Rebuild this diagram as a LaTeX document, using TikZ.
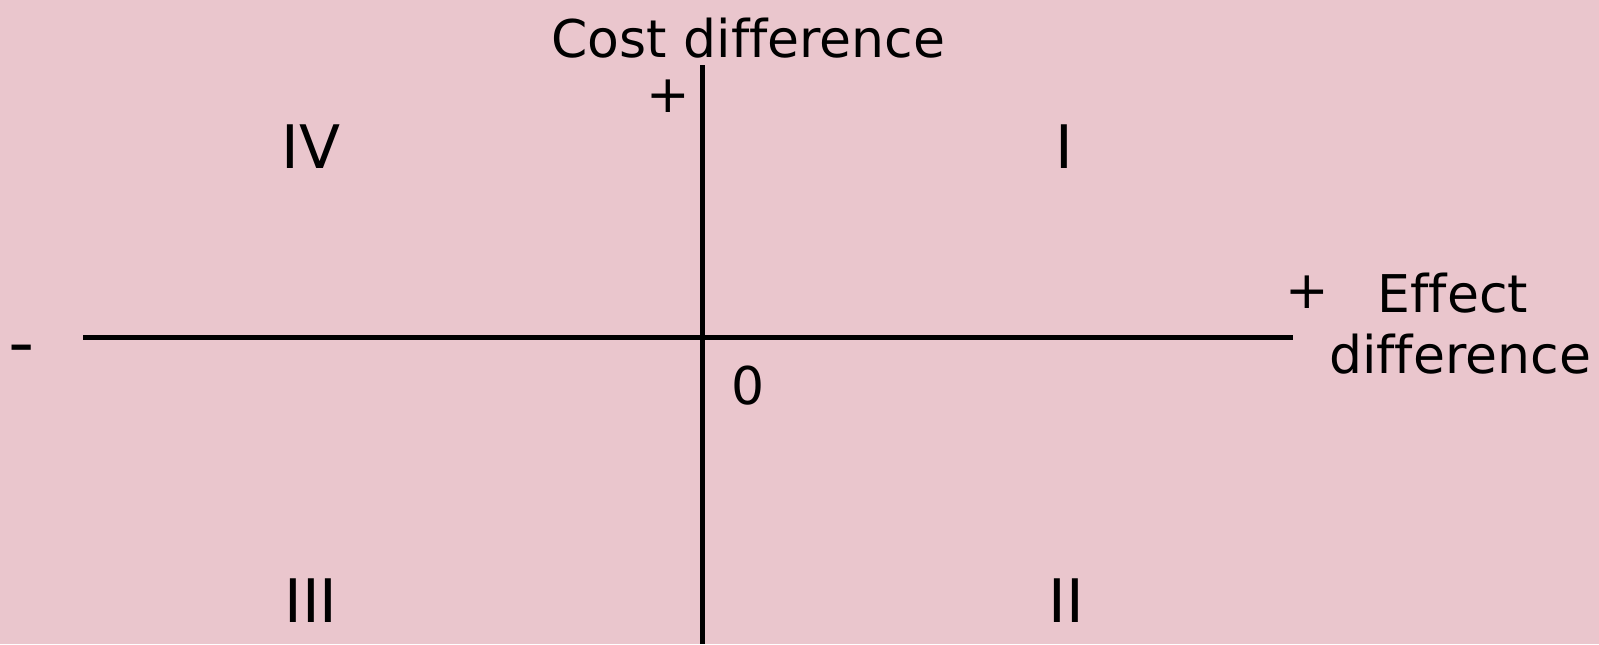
\documentclass[tikz,border=0pt]{standalone}
\usepackage{fontspec}
\setmainfont[Ligatures=NoCommon]{DejaVu Sans}
\definecolor{bgpink}{HTML}{EAC6CD}
\tikzset{
  axis/.style={line width=2.5pt, black},
  lbl/.style={inner sep=0pt, anchor=base, font=\fontsize{26}{31}\selectfont},
  quad/.style={inner sep=0pt, anchor=base, font=\fontsize{30}{36}\selectfont}
}
\begin{document}
\begin{tikzpicture}[x=0.5pt,y=-0.5pt]
\fill[bgpink] (0,0) rectangle (1599,644);
\useasboundingbox (0,0) rectangle (1599,644);
\coordinate (vtop) at (702,65);
\coordinate (vbot) at (702,644);
\coordinate (hl) at (83,337);
\coordinate (hr) at (1293,337);
\draw[axis] (vtop) -- (vbot);
\draw[axis] (hl) -- (hr);
\node[lbl] (cost) at (748.5,57) {Cost difference};
\node[lbl] (pcost) at (668,112) {+};
\node[lbl] (peff) at (1307,308) {+};
\node[lbl] (meff) at (22,365) {\scalebox{1.4}[1.25]{-}};
\node[lbl] (eff) at (1453,312) {Effect};
\node[lbl] (diff) at (1460,373) {difference};
\node[lbl] (zero) at (748,404) {0};
\node[quad] (q4) at (311,168) {IV};
\node[quad] (q1) at (1064,168) {I};
\node[quad] (q3) at (311,622) {III};
\node[quad] (q2) at (1066,622) {II};
\end{tikzpicture}
\end{document}
